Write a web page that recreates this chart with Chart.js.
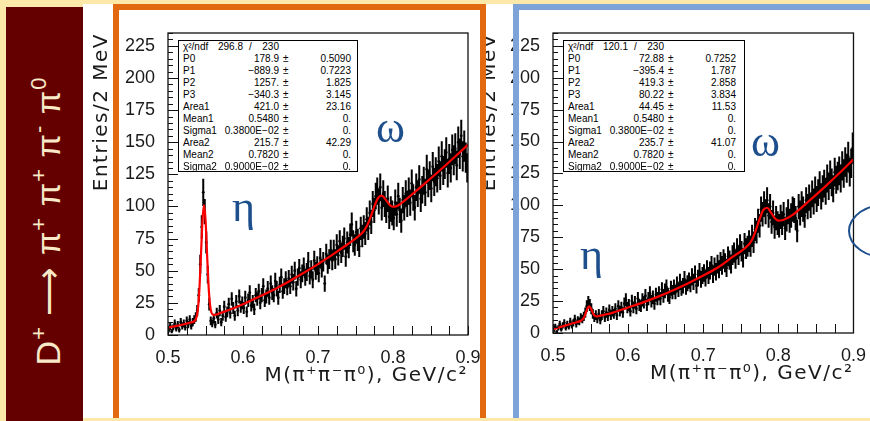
<!DOCTYPE html>
<html>
<head>
<meta charset="utf-8">
<script src="https://cdn.jsdelivr.net/npm/chart.js@4.4.1/dist/chart.umd.min.js"></script>
<style>
  html, body { margin: 0; padding: 0; }
  body {
    width: 870px; height: 421px; position: relative; overflow: hidden;
    background: #fce8a8; font-family: 'Liberation Sans', Arial, sans-serif;
  }
  .sheet { position: absolute; left: 83px; top: 4px; width: 787px; height: 414px; background: #fff; }
  .band { position: absolute; left: 6px; top: 7px; width: 77px; height: 414px; background: #650000; overflow: hidden; }
  .band-title {
    position: absolute; left: -113px; top: 189px; width: 310px; height: 50px; line-height: 50px;
    text-align: center; white-space: nowrap; color: #f8e9c8; font-size: 34px;
    transform: rotate(-90deg); letter-spacing: 1px;
  }
  .band-title sup { font-size: 22px; vertical-align: 14px; line-height: 0; }
  canvas { position: absolute; top: 0; }
  #plotL { left: 83px; }
  #plotR { left: 470px; }
  .frame { position: absolute; top: 4px; height: 414px; box-sizing: border-box; border-style: solid; border-width: 6px 6px 0 6px; }
  #frameL { left: 113px; width: 373px; border-color: #e2690f; }
  #frameR { left: 513px; width: 380px; border-color: #7ea3d8; }
  .stats {
    position: absolute; top: 40px; height: 132px; box-sizing: border-box;
    border: 1.3px solid #000; background: #fff; font-size: 10px; color: #000;
  }
  .stats .row { position: relative; height: 12px; line-height: 12px; }
  .stats span { position: absolute; top: 0; white-space: nowrap; }
  .greek { position: absolute; font-family: 'Liberation Serif', 'DejaVu Serif', serif; font-size: 44px; line-height: 1; color: #1c4f8c; }
  .ellipse { position: absolute; left: 848px; top: 203px; width: 80px; height: 56px; box-sizing: border-box; border: 2.5px solid #1c4f8c; border-radius: 50%; }
</style>
</head>
<body>
<div class="sheet"></div>
<div class="band"><div class="band-title">D<sup>+</sup> ⟶ π<sup>+</sup> π<sup>+</sup> π<sup>-</sup> π<sup>0</sup></div></div>

<canvas id="plotL" width="403" height="421"></canvas>
<canvas id="plotR" width="400" height="421"></canvas>

<div class="stats" id="statsL" style="left:178px;width:180px;"></div>
<div class="stats" id="statsR" style="left:563px;width:182px;"></div>

<span class="greek" style="left:232px;top:185px;">η</span>
<span class="greek" style="left:376px;top:106px;">ω</span>
<span class="greek" style="left:580px;top:233px;">η</span>
<span class="greek" style="left:751px;top:120px;">ω</span>

<div class="frame" id="frameL"></div>
<div class="frame" id="frameR"></div>
<div class="ellipse"></div>

<script>
// histogram binning: 2 MeV bins from 0.50 to 0.90 GeV
const binStart = 0.5;
const binWidth = 0.002;

// entries per bin, left plot (fit with eta + omega)
const countsLeft = [
  4, 7, 3, 6, 9, 5, 8, 4, 10, 7,
  9, 6, 11, 8, 12, 7, 10, 12, 14, 19,
  31, 55, 84, 111, 96, 72, 47, 24, 11, 9,
  13, 8, 17, 12, 19, 10, 15, 22, 14, 18,
  24, 17, 28, 21, 15, 26, 19, 30, 22, 25,
  21, 29, 18, 27, 33, 23, 26, 20, 31, 28,
  34, 25, 31, 38, 27, 30, 36, 29, 40, 33,
  31, 42, 36, 29, 39, 45, 34, 38, 43, 37,
  44, 38, 47, 41, 50, 36, 45, 52, 43, 48,
  53, 45, 49, 57, 46, 51, 43, 58, 50, 54,
  48, 60, 52, 57, 40, 63, 55, 59, 66, 58,
  66, 59, 70, 62, 73, 64, 69, 75, 61, 72,
  68, 78, 86, 73, 70, 80, 74, 69, 83, 77,
  84, 79, 90, 83, 95, 88, 102, 97, 108, 112,
  104, 115, 99, 110, 102, 97, 106, 92, 98, 95,
  91, 103, 94, 108, 97, 89, 105, 99, 110, 102,
  112, 103, 118, 107, 99, 115, 110, 121, 106, 113,
  120, 111, 129, 118, 124, 114, 131, 119, 127, 122,
  135, 124, 139, 128, 133, 142, 126, 137, 130, 144,
  136, 145, 132, 150, 141, 155, 139, 147, 138, 130
];

// entries per bin, right plot
const countsRight = [
  2, 5, 1, 4, 7, 3, 6, 8, 4, 7,
  5, 9, 6, 8, 11, 7, 10, 9, 12, 11,
  13, 16, 21, 24, 22, 19, 15, 12, 14, 11,
  15, 10, 14, 17, 12, 16, 13, 18, 14, 17,
  15, 19, 14, 21, 17, 20, 16, 23, 26, 20,
  22, 17, 25, 20, 24, 19, 27, 22, 21, 26,
  24, 29, 22, 27, 31, 25, 28, 23, 30, 27,
  31, 27, 34, 29, 33, 36, 30, 28, 35, 32,
  36, 32, 38, 34, 40, 35, 37, 42, 36, 39,
  41, 38, 44, 40, 46, 37, 43, 48, 42, 45,
  47, 43, 50, 45, 49, 53, 46, 52, 48, 54,
  50, 56, 53, 58, 55, 51, 60, 57, 54, 61,
  63, 58, 66, 61, 69, 64, 59, 70, 66, 68,
  72, 68, 76, 71, 81, 79, 88, 84, 97, 93,
  101, 95, 104, 92, 99, 87, 94, 83, 90, 86,
  84, 91, 86, 93, 82, 89, 95, 88, 92, 97,
  96, 90, 80, 99, 94, 101, 97, 92, 104, 99,
  106, 100, 109, 103, 112, 105, 110, 116, 107, 113,
  117, 111, 121, 115, 124, 118, 113, 126, 120, 123,
  127, 121, 131, 125, 134, 129, 138, 126, 133, 145
];

// red fit curves
const fitMass = [
  0.50, 0.51, 0.52, 0.53, 0.535, 0.538, 0.540, 0.542, 0.544, 0.546,
  0.548, 0.550, 0.552, 0.554, 0.556, 0.558, 0.561, 0.565, 0.57, 0.58,
  0.60, 0.62, 0.64, 0.66, 0.68, 0.70, 0.72, 0.74, 0.75, 0.76,
  0.765, 0.77, 0.775, 0.78, 0.785, 0.79, 0.795, 0.80, 0.805, 0.81,
  0.82, 0.84, 0.86, 0.88, 0.90
];
const fitLeft = [
  5.7, 6.9, 8.2, 9.7, 10.8, 13.8, 20.9, 37.0, 62.8, 89.3,
  101.1, 90.0, 64.2, 39.1, 23.7, 17.3, 15.5, 16.0, 17.1, 19.2,
  24.0, 29.3, 35.0, 41.3, 48.0, 55.2, 62.8, 70.8, 75.0, 80.2,
  84.6, 91.5, 99.9, 106.6, 108.4, 105.5, 101.6, 99.8, 100.3, 102.1,
  106.8, 116.6, 126.8, 137.3, 148.1
];
const fitRight = [
  3.0, 4.7, 6.5, 8.2, 9.1, 9.9, 11.0, 13.0, 16.1, 19.3,
  20.8, 19.6, 17.3, 14.6, 13.4, 13.0, 13.2, 13.8, 14.5, 16.0,
  20.0, 24.0, 28.5, 33.5, 39.0, 45.0, 51.5, 60.0, 64.0, 69.0,
  73.1, 80.4, 89.3, 96.4, 98.1, 94.5, 90.1, 88.0, 88.3, 89.5,
  93.0, 103.0, 113.5, 124.5, 136.0
];

const xTicks = [0.5, 0.6, 0.7, 0.8, 0.9];
const yTicks = [0, 25, 50, 75, 100, 125, 150, 175, 200, 225];
const yMax = 235;

// fit statistics boxes
const statNames = ['P0', 'P1', 'P2', 'P3', 'Area1', 'Mean1', 'Sigma1', 'Area2', 'Mean2', 'Sigma2'];
const chi2Left = ['296.8', '230'];
const statValLeft = ['178.9', '\u2212889.9', '1257.', '\u2212340.3', '421.0', '0.5480', '0.3800E\u221202', '215.7', '0.7820', '0.9000E\u221202'];
const statErrLeft = ['0.5090', '0.7223', '1.825', '3.145', '23.16', '0.', '0.', '42.29', '0.', '0.'];
const chi2Right = ['120.1', '230'];
const statValRight = ['72.88', '\u2212395.4', '419.3', '80.22', '44.45', '0.5480', '0.3800E\u221202', '235.7', '0.7820', '0.9000E\u221202'];
const statErrRight = ['0.7252', '1.787', '2.858', '3.834', '11.53', '0.', '0.', '41.07', '0.', '0.'];

function fillStats(id, chi2, vals, errs) {
  const box = document.getElementById(id);
  const w = box.offsetWidth;
  let html = '<div class="row"><span style="left:4px">\u03c7\u00b2/ndf</span>' +
    '<span style="right:' + (w - 66) + 'px">' + chi2[0] + '</span>' +
    '<span style="left:70px">/</span>' +
    '<span style="right:' + (w - 102) + 'px">' + chi2[1] + '</span></div>';
  statNames.forEach((n, i) => {
    html += '<div class="row"><span style="left:4px">' + n + '</span>' +
      '<span style="right:' + (w - 102) + 'px">' + vals[i] + '</span>' +
      '<span style="left:104px">\u00b1</span>' +
      '<span style="right:' + (w - 174) + 'px">' + errs[i] + '</span></div>';
  });
  box.innerHTML = html;
}
fillStats('statsL', chi2Left, statValLeft, statErrLeft);
fillStats('statsR', chi2Right, statValRight, statErrRight);

// axis titles are drawn (layer z=-1) before the datasets, tick labels after (z=1):
// widen only the titles, like the ROOT rendering
const titleSpacing = {
  id: 'titleSpacing',
  beforeDraw(chart) { chart.ctx.letterSpacing = '1.5px'; },
  beforeDatasetsDraw(chart) { chart.ctx.letterSpacing = '0px'; }
};

// vertical error bars (sqrt N) under the markers
const errorBars = {
  id: 'errorBars',
  beforeDatasetsDraw(chart) {
    const { ctx, chartArea: a, scales: { x, y } } = chart;
    const pts = chart.data.datasets[1].data;
    ctx.save();
    ctx.beginPath();
    ctx.rect(a.left, a.top, a.width, a.height);
    ctx.clip();
    ctx.strokeStyle = '#000';
    ctx.lineWidth = 2;
    ctx.beginPath();
    pts.forEach(p => {
      const e = Math.sqrt(p.y);
      const px = x.getPixelForValue(p.x);
      ctx.moveTo(px, y.getPixelForValue(p.y - e));
      ctx.lineTo(px, y.getPixelForValue(p.y + e));
    });
    ctx.stroke();
    ctx.restore();
  }
};

// ROOT style frame with ticks pointing inward
const rootFrame = {
  id: 'rootFrame',
  afterDraw(chart) {
    const { ctx, chartArea: a, scales: { x, y } } = chart;
    ctx.save();
    ctx.strokeStyle = '#111';
    ctx.lineWidth = 1.3;
    ctx.strokeRect(a.left, a.top, a.width, a.height);
    ctx.lineWidth = 1;
    ctx.beginPath();
    for (let v = 0; v <= yMax; v += 5) {
      const py = Math.round(y.getPixelForValue(v)) + 0.5;
      ctx.moveTo(a.left, py);
      ctx.lineTo(a.left + (v % 25 === 0 ? 10 : 5), py);
    }
    for (let i = 0; i <= 16; i++) {
      const px = Math.round(x.getPixelForValue(0.5 + i * 0.025)) + 0.5;
      ctx.moveTo(px, a.bottom);
      ctx.lineTo(px, a.bottom - 9);
    }
    ctx.stroke();
    ctx.restore();
  }
};

const tickFont = { family: "'Liberation Sans', Arial, sans-serif", size: 18 };
const titleFont = { family: "'DejaVu Sans', 'Liberation Sans', sans-serif", size: 20 };

function makePlot(canvasId, counts, fit, lay) {
  const points = counts.map((c, i) => ({ x: binStart + binWidth * (i + 0.5), y: c }));
  const curve = fitMass.map((m, i) => ({ x: m, y: fit[i] }));
  return new Chart(document.getElementById(canvasId), {
    type: 'scatter',
    data: {
      datasets: [
        {
          label: 'fit',
          data: curve,
          showLine: true,
          borderColor: '#ff0000',
          borderWidth: 2.2,
          pointRadius: 0,
          cubicInterpolationMode: 'monotone',
          order: 0
        },
        {
          label: 'data',
          data: points,
          pointRadius: 1.4,
          pointBackgroundColor: '#000',
          pointBorderWidth: 0,
          order: 1
        }
      ]
    },
    options: {
      responsive: false,
      animation: false,
      events: [],
      layout: { padding: { left: 0, right: lay.right, top: 33, bottom: 0 } },
      plugins: { legend: { display: false }, tooltip: { enabled: false } },
      scales: {
        x: {
          type: 'linear', min: 0.5, max: 0.9,
          grid: { display: false }, border: { display: false },
          afterBuildTicks: s => { s.ticks = xTicks.map(v => ({ value: v })); },
          afterFit: s => { s.height = lay.xh; },
          ticks: { z: 1, font: tickFont, color: '#1a1a1a', padding: 4, maxRotation: 0, autoSkip: false,
                   callback: v => v.toFixed(1) },
          title: { display: true, text: 'M(\u03c0\u207a\u03c0\u207b\u03c0\u2070), GeV/c\u00b2', align: 'end',
                   font: titleFont, color: '#1a1a1a', padding: { top: 0, bottom: lay.xTitlePad } }
        },
        y: {
          min: 0, max: yMax,
          grid: { display: false }, border: { display: false },
          afterBuildTicks: s => { s.ticks = yTicks.map(v => ({ value: v })); },
          afterFit: s => { s.width = lay.yw; },
          ticks: { z: 1, font: tickFont, color: '#1a1a1a', padding: 5, callback: v => String(v) },
          title: { display: true, text: 'Entries/2 MeV', align: 'end',
                   font: titleFont, color: '#1a1a1a', padding: { top: lay.yTitlePad, bottom: 0 } }
        }
      }
    },
    plugins: [titleSpacing, errorBars, rootFrame]
  });
}

makePlot('plotL', countsLeft, fitLeft, { right: 18, xh: 86, yw: 85, xTitlePad: 33, yTitlePad: 7 });
makePlot('plotR', countsRight, fitRight, { right: 15, xh: 88, yw: 83, xTitlePad: 35, yTitlePad: 8 });
</script>
</body>
</html>
